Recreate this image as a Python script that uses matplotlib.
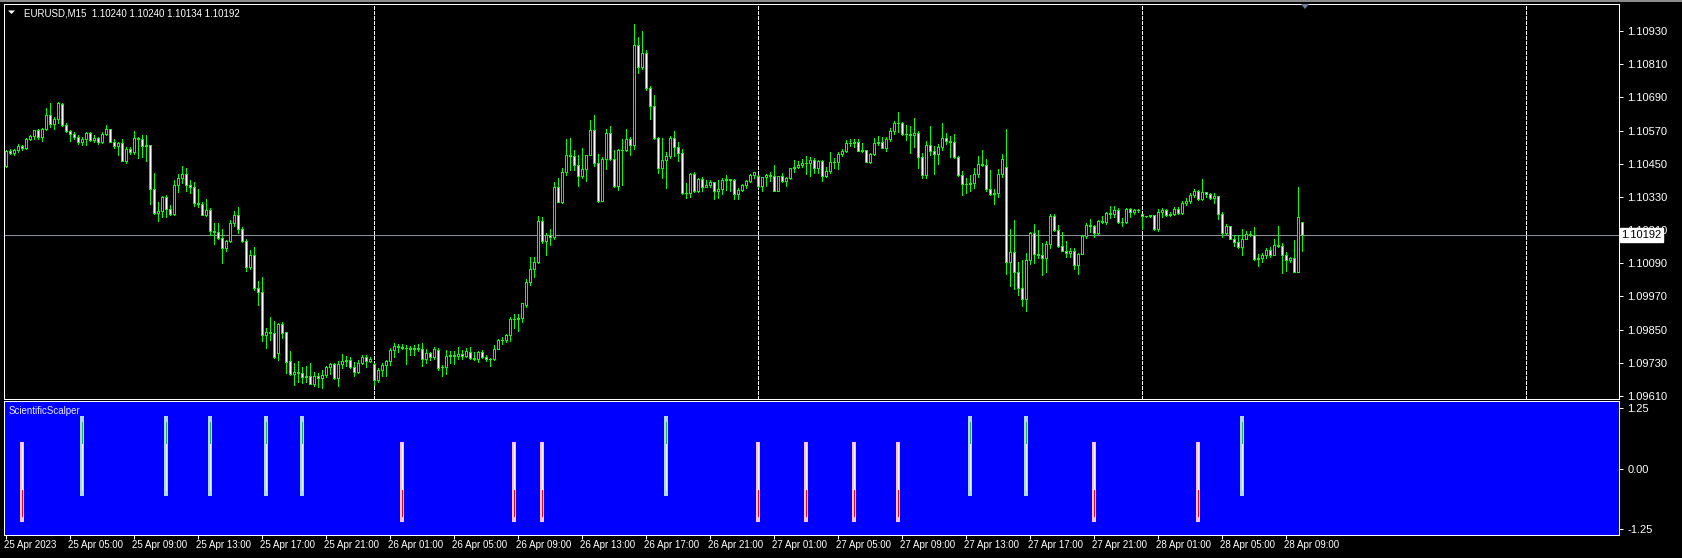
import numpy as np
import matplotlib
matplotlib.use("Agg")
import matplotlib.pyplot as plt
from matplotlib import transforms
from matplotlib.patches import Polygon

plt.rcParams['font.family'] = ['Liberation Sans', 'DejaVu Sans']
plt.rcParams['lines.scale_dashes'] = False

# ---------------- data (prices in points, 1e-5) ----------------
symbol_title = "EURUSD,M15  1.10240 1.10240 1.10134 1.10192"
indicator_name = "ScientificScalper"
last_price = 1.10192

open_pts = [110442,110496,110489,110499,110513,110506,110538,110549,110571,110546,110576,110625,110593,110611,110666,110589,110570,110556,110548,110530,
110538,110560,110537,110542,110530,110556,110575,110530,110513,110524,110461,110503,110491,110542,110540,110513,110516,110358,110271,110278,
110329,110288,110270,110372,110397,110412,110373,110365,110307,110304,110266,110283,110205,110203,110183,110147,110170,110235,110265,110215,
110172,110078,110120,110000,109987,109831,109843,109837,109767,109871,109841,109737,109689,109698,109692,109680,109681,109655,109683,109675,
109685,109714,109726,109677,109726,109736,109742,109716,109698,109728,109751,109738,109726,109668,109704,109724,109736,109777,109791,109787,
109785,109784,109779,109783,109780,109745,109766,109752,109777,109714,109715,109755,109757,109754,109762,109755,109768,109746,109745,109768,
109751,109744,109744,109781,109813,109812,109830,109887,109889,109891,109939,110024,110068,110096,110243,110171,110191,110185,110366,110313,
110420,110482,110477,110446,110407,110431,110482,110571,110452,110317,110467,110560,110466,110370,110500,110501,110538,110518,110879,110801,
110849,110725,110660,110542,110434,110462,110477,110542,110509,110488,110343,110344,110412,110353,110395,110367,110373,110383,110353,110358,
110391,110394,110391,110340,110355,110372,110387,110408,110406,110371,110401,110408,110406,110353,110405,110389,110397,110433,110437,110447,
110452,110454,110465,110433,110459,110405,110425,110455,110456,110484,110495,110524,110526,110530,110497,110499,110458,110484,110526,110530,
110508,110541,110567,110599,110597,110558,110556,110554,110560,110474,110409,110518,110497,110485,110509,110542,110532,110529,110473,110409,
110378,110377,110382,110412,110448,110447,110359,110342,110345,110412,110437,110096,110130,110057,109999,109960,110102,110201,110122,110119,
110109,110159,110261,110210,110154,110136,110126,110133,110084,110125,110190,110227,110224,110201,110243,110241,110271,110269,110284,110238,
110239,110285,110274,110282,110267,110261,110260,110263,110213,110274,110284,110265,110268,110288,110271,110307,110314,110338,110350,110321,
110347,110339,110325,110332,110267,110201,110224,110179,110168,110148,110179,110195,110192,110104,110108,110119,110137,110121,110155,110153,
110121,110101,110108,110060,110240]

high_pts = [110500,110503,110503,110522,110518,110542,110554,110572,110576,110578,110651,110669,110620,110673,110669,110596,110572,110565,110554,110548,
110566,110565,110554,110548,110564,110591,110576,110538,110530,110541,110512,110512,110569,110548,110553,110554,110517,110415,110313,110334,
110337,110301,110391,110412,110442,110436,110391,110384,110359,110313,110321,110289,110235,110237,110213,110174,110247,110279,110293,110223,
110177,110138,110148,110026,110042,109855,109897,109882,109873,109879,109842,109773,109728,109737,109716,109719,109731,109698,109692,109704,
109719,109731,109728,109737,109762,109755,109750,109732,109739,109757,109757,109750,109728,109710,109728,109740,109783,109803,109797,109798,
109795,109792,109793,109798,109801,109781,109771,109787,109783,109722,109777,109774,109774,109787,109777,109783,109787,109768,109774,109775,
109760,109748,109793,109816,109825,109834,109895,109906,109906,109948,110033,110114,110111,110261,110258,110198,110213,110385,110397,110434,
110540,110542,110500,110482,110506,110482,110608,110626,110484,110476,110576,110587,110500,110503,110540,110576,110548,110955,110908,110930,
110861,110732,110699,110548,110544,110491,110552,110569,110530,110503,110379,110415,110421,110400,110403,110391,110391,110385,110391,110400,
110409,110395,110394,110364,110376,110393,110412,110421,110409,110403,110413,110419,110446,110407,110416,110403,110436,110464,110460,110466,
110478,110476,110470,110464,110464,110437,110494,110470,110494,110502,110536,110540,110540,110540,110524,110501,110490,110544,110550,110547,
110546,110578,110605,110637,110600,110590,110587,110617,110568,110488,110532,110587,110515,110520,110599,110562,110550,110558,110479,110424,
110400,110409,110433,110478,110500,110467,110427,110359,110431,110484,110576,110214,110247,110096,110102,110126,110204,110232,110211,110163,
110172,110267,110268,110228,110204,110172,110147,110144,110126,110192,110237,110249,110227,110247,110261,110277,110297,110297,110289,110253,
110289,110289,110285,110286,110267,110262,110265,110265,110286,110291,110288,110277,110295,110295,110315,110325,110343,110357,110355,110396,
110349,110345,110343,110333,110274,110231,110225,110192,110192,110213,110207,110207,110220,110124,110126,110144,110148,110178,110225,110162,
110132,110112,110174,110367,110240]

low_pts = [110440,110485,110483,110494,110500,110502,110536,110541,110541,110534,110572,110584,110577,110599,110587,110563,110534,110540,110522,110519,
110516,110534,110530,110520,110524,110554,110529,110508,110482,110460,110452,110484,110485,110471,110476,110461,110303,110268,110244,110259,
110256,110266,110265,110349,110379,110353,110343,110297,110295,110265,110261,110191,110158,110179,110092,110136,110166,110225,110201,110168,
110063,110071,109994,109939,109810,109783,109813,109749,109741,109819,109695,109686,109650,109662,109656,109662,109654,109648,109644,109640,
109678,109689,109672,109648,109710,109719,109710,109683,109692,109725,109716,109734,109650,109662,109684,109683,109722,109750,109769,109779,
109726,109757,109757,109774,109720,109730,109740,109745,109704,109684,109690,109728,109726,109745,109745,109750,109743,109740,109734,109749,
109737,109720,109740,109779,109797,109807,109810,109857,109846,109879,109933,110012,110042,110090,110165,110120,110156,110178,110311,110309,
110409,110427,110427,110371,110400,110389,110480,110443,110313,110315,110431,110464,110367,110355,110373,110497,110482,110503,110779,110791,
110717,110613,110540,110418,110400,110364,110472,110479,110461,110341,110327,110331,110349,110347,110352,110365,110365,110323,110327,110341,
110355,110352,110323,110323,110353,110361,110383,110400,110367,110353,110370,110389,110352,110352,110385,110371,110395,110421,110433,110440,
110413,110407,110415,110418,110389,110401,110415,110433,110430,110479,110491,110514,110512,110496,110494,110456,110452,110482,110518,110506,
110496,110534,110559,110566,110554,110536,110490,110512,110436,110400,110400,110482,110413,110449,110500,110520,110476,110470,110407,110337,
110345,110353,110361,110403,110443,110352,110337,110305,110331,110403,110051,110009,109997,109975,109937,109918,110086,110090,110108,110048,
110060,110144,110207,110148,110133,110112,110114,110068,110051,110122,110183,110203,110185,110196,110235,110232,110253,110259,110235,110225,
110237,110256,110267,110277,110213,110257,110257,110210,110208,110259,110261,110262,110263,110268,110267,110301,110309,110331,110319,110319,
110331,110321,110307,110250,110184,110196,110177,110154,110144,110120,110177,110189,110102,110080,110096,110110,110114,110120,110148,110056,
110062,110096,110059,110059,110134]

close_pts = [110497,110489,110500,110513,110506,110538,110549,110571,110546,110576,110625,110593,110611,110669,110589,110570,110556,110548,110530,110538,
110560,110537,110542,110530,110556,110575,110530,110513,110524,110461,110503,110491,110542,110540,110513,110516,110358,110271,110278,110329,
110288,110270,110372,110397,110412,110373,110365,110307,110304,110266,110283,110205,110203,110183,110147,110170,110235,110265,110215,110172,
110078,110120,110000,109987,109831,109843,109838,109750,109871,109839,109734,109689,109698,109692,109680,109681,109655,109683,109675,109686,
109714,109726,109674,109726,109736,109742,109716,109698,109728,109751,109738,109745,109668,109704,109724,109736,109777,109791,109787,109785,
109784,109779,109783,109780,109745,109766,109752,109780,109713,109715,109755,109757,109754,109762,109755,109773,109746,109745,109768,109751,
109744,109743,109781,109813,109812,109830,109887,109889,109891,109945,110021,110068,110096,110243,110171,110191,110185,110366,110313,110420,
110482,110477,110446,110407,110431,110482,110571,110452,110317,110467,110560,110466,110370,110500,110501,110538,110518,110879,110801,110849,
110725,110660,110542,110434,110462,110477,110542,110509,110488,110343,110344,110412,110353,110395,110367,110373,110383,110353,110358,110391,
110394,110391,110340,110355,110372,110387,110408,110419,110370,110401,110408,110406,110353,110405,110389,110397,110433,110437,110447,110452,
110454,110465,110433,110459,110405,110425,110455,110456,110484,110495,110524,110526,110530,110497,110499,110458,110484,110526,110530,110508,
110541,110567,110599,110597,110558,110556,110554,110560,110476,110409,110518,110497,110485,110509,110542,110532,110529,110473,110409,110378,
110377,110382,110412,110448,110447,110359,110342,110345,110412,110466,110096,110130,110057,109999,109960,110102,110201,110122,110119,110109,
110159,110261,110210,110154,110136,110126,110133,110084,110122,110190,110227,110224,110201,110243,110241,110271,110269,110284,110238,110239,
110285,110274,110282,110283,110261,110260,110263,110213,110274,110284,110265,110268,110288,110271,110307,110314,110338,110350,110321,110347,
110339,110325,110332,110267,110201,110224,110179,110168,110148,110179,110195,110192,110104,110108,110119,110137,110121,110155,110153,110121,
110101,110108,110060,110256,110192]

# time axis: one label every 16 bars (4 hours of M15)
time_labels = ["25 Apr 2023", "25 Apr 05:00", "25 Apr 09:00", "25 Apr 13:00", "25 Apr 17:00", "25 Apr 21:00",
               "26 Apr 01:00", "26 Apr 05:00", "26 Apr 09:00", "26 Apr 13:00", "26 Apr 17:00", "26 Apr 21:00",
               "27 Apr 01:00", "27 Apr 05:00", "27 Apr 09:00", "27 Apr 13:00", "27 Apr 17:00", "27 Apr 21:00",
               "28 Apr 01:00", "28 Apr 05:00", "28 Apr 09:00"]
bars_per_label = 16
day_separator_bars = [92, 188, 284, 380]

price_ticks = [1.09610, 1.09730, 1.09850, 1.09970, 1.10090, 1.10210, 1.10330, 1.10450, 1.10570, 1.10690, 1.10810, 1.10930]
ind_ticks = [1.25, 0.00, -1.25]

# indicator signals (bar indices) and level extents
sell_bars = [4, 99, 127, 134, 188, 200, 212, 223, 272, 298]
buy_bars = [19, 40, 51, 65, 74, 165, 241, 255, 309]
buy_outer = (-0.58, 1.09)
buy_green = (0.53, 0.96)
buy_light = (-0.45, 0.53)
sell_outer = (-1.12, 0.55)
sell_red = (-0.99, -0.45)
sell_light = (-0.45, 0.50)

# ---------------- figure ----------------
W, H = 1682, 558
fig = plt.figure(figsize=(W / 100, H / 100), dpi=100, facecolor='black')
PX = 0.72  # one pixel in points

o = np.array(open_pts) / 1e5
h = np.array(high_pts) / 1e5
l = np.array(low_pts) / 1e5
c = np.array(close_pts) / 1e5
x = np.arange(len(o))

left_px, right_px = 4, 1619
main_top, main_bot = 4, 399
ind_top, ind_bot = 401, 535

def fig_rect(top, bot):
    return [left_px / W, (H - bot) / H, (right_px - left_px) / W, (bot - top) / H]

xlim = ((left_px - 5.5) / 4.0, (right_px - 5.5) / 4.0)

ax = fig.add_axes(fig_rect(main_top, main_bot))
ax.set_facecolor('black')
ax.set_xlim(*xlim)
ax.set_ylim(1.095993, 1.110276)

# wicks
ax.vlines(x, l, h, color='#00ff00', lw=PX, zorder=2, antialiased=False)
# bodies
bottoms = np.minimum(o, c)
heights = np.maximum(np.abs(c - o), 1e-7)
faces = np.where(c < o, 'white', 'black')
ax.bar(x, heights, bottom=bottoms, width=0.5, color=faces, edgecolor='#00ff00',
       linewidth=PX, zorder=3, antialiased=False)

# day separators
for b in day_separator_bars:
    ax.axvline(b, color='white', lw=PX, dashes=(2.88, 1.44), zorder=1, antialiased=False)

# last price line
ax.axhline(last_price, color='#8a909c', lw=PX, zorder=1.5, antialiased=False)

ax.yaxis.tick_right()
ax.set_yticks(price_ticks)
ax.set_yticklabels([f"{v:.5f}" for v in price_ticks])
ax.tick_params(axis='y', colors='white', labelcolor='white', labelsize=8, length=3, width=PX, pad=3, direction='out')
ax.set_xticks([])
for s in ax.spines.values():
    s.set_color('white')
    s.set_linewidth(PX)

trans_r = transforms.blended_transform_factory(ax.transAxes, ax.transData)
ax.text(1.0015, last_price, f"{last_price:.5f}", transform=trans_r, ha='left', va='center',
        fontsize=8, color='black', zorder=10, clip_on=False,
        bbox=dict(boxstyle='square,pad=0.15', fc='white', ec='white'))

ax.text(20 / (right_px - left_px), 1 - 9 / (main_bot - main_top), symbol_title, transform=ax.transAxes,
        ha='left', va='center', fontsize=7, color='white')
tri_ax = Polygon([[(8) / W, 1 - 10.5 / H], [(15) / W, 1 - 10.5 / H], [(11.5) / W, 1 - 14 / H]],
                 closed=True, transform=fig.transFigure, fc='white', ec='none')
fig.patches.append(tri_ax)

# chart shift marker
shift = Polygon([[1301 / W, 1 - 4 / H], [1309 / W, 1 - 4 / H], [1305 / W, 1 - 9 / H]],
                closed=True, transform=fig.transFigure, fc='#6e7d96', ec='none')
fig.patches.append(shift)

# window top border
fig.add_artist(plt.Line2D([0, 1], [1 - 1 / H, 1 - 1 / H], transform=fig.transFigure, color='#8c8c8c', lw=2 * PX))

# ---------------- indicator ----------------
axi = fig.add_axes(fig_rect(ind_top, ind_bot))
axi.set_facecolor('#0000ff')
axi.set_xlim(*xlim)
axi.set_ylim(-1.385, 1.406)

bb = np.array(buy_bars)
sb = np.array(sell_bars)
axi.bar(bb, buy_outer[1] - buy_outer[0], bottom=buy_outer[0], width=1.0, color='#add8e6', zorder=2, antialiased=False)
axi.vlines(bb, buy_light[0], buy_light[1], color='#e0f4ff', lw=PX, zorder=3, antialiased=False)
axi.vlines(bb, buy_green[0], buy_green[1], color='#22b14c', lw=PX, zorder=3, antialiased=False)
axi.bar(sb, sell_outer[1] - sell_outer[0], bottom=sell_outer[0], width=1.0, color='#ffc0cb', zorder=2, antialiased=False)
axi.vlines(sb, sell_light[0], sell_light[1], color='#fff0f3', lw=PX, zorder=3, antialiased=False)
axi.vlines(sb, sell_red[0], sell_red[1], color='#ff0000', lw=PX, zorder=3, antialiased=False)

axi.yaxis.tick_right()
axi.set_yticks(ind_ticks)
axi.set_yticklabels([f"{v:.2f}" for v in ind_ticks])
axi.tick_params(axis='y', colors='white', labelcolor='white', labelsize=8, length=3, width=PX, pad=3)
label_pos = [i * bars_per_label for i in range(len(time_labels))]
axi.set_xticks(label_pos)
axi.set_xticklabels([])
axi.tick_params(axis='x', colors='white', length=3, width=PX, direction='out')
trans_b = transforms.blended_transform_factory(axi.transData, axi.transAxes)
for pos, lab in zip(label_pos, time_labels):
    axi.text(pos - 0.35, -10 / (ind_bot - ind_top), lab, transform=trans_b, ha='left', va='center',
             fontsize=7, color='white', clip_on=False)
for s in axi.spines.values():
    s.set_color('white')
    s.set_linewidth(PX)
axi.text(5 / (right_px - left_px), 1 - 10 / (ind_bot - ind_top), indicator_name, transform=axi.transAxes,
         ha='left', va='center', fontsize=7, color='#e8e8ff')

fig.savefig('out.png', dpi=100, facecolor='black')
